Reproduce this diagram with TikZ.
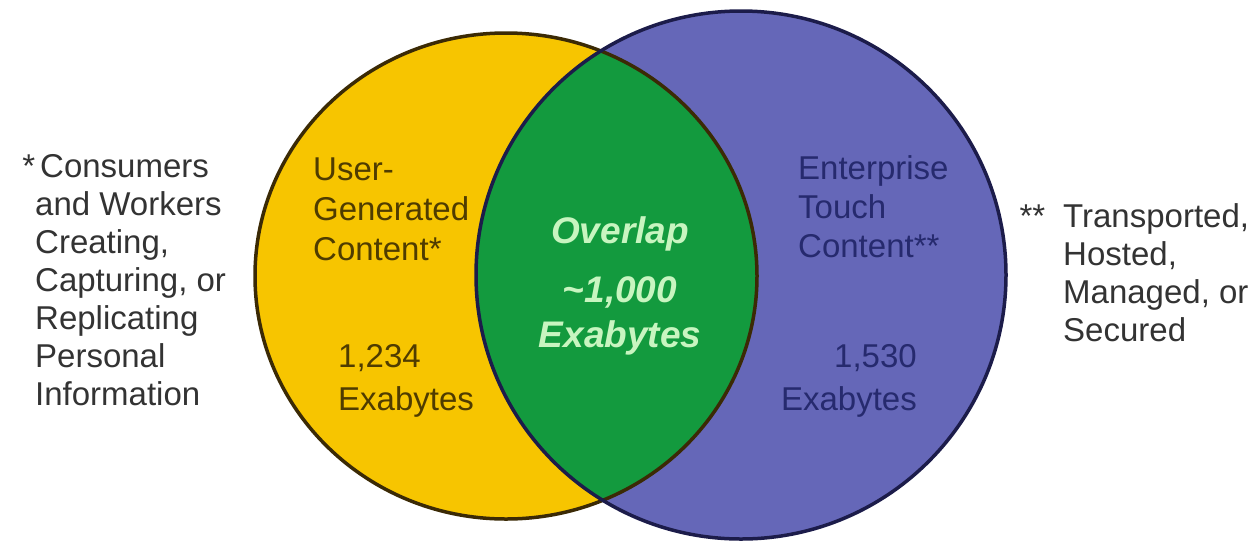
\documentclass[tikz,border=0pt]{standalone}
\usepackage{fontspec}
\setmainfont{Liberation Sans}
\usepackage{tikz}
\definecolor{ugcyellow}{HTML}{F7C500}
\definecolor{entblue}{HTML}{6567B8}
\definecolor{lensgreen}{HTML}{139A3E}
\definecolor{ugcline}{HTML}{3B2A05}
\definecolor{entline}{HTML}{1C1C4A}
\definecolor{ugcink}{HTML}{4F3C00}
\definecolor{entink}{HTML}{262A6E}
\definecolor{lensink}{HTML}{C8F5C0}
\definecolor{noteink}{HTML}{333333}
\tikzstyle{sidenote} = [anchor=base west, 
align=left, 
inner sep=0pt, 
text=noteink, 
font=\fontsize{33}{38}\selectfont]
\tikzstyle{usertext} = [sidenote, 
text=ugcink, 
font=\fontsize{33}{40}\selectfont]
\tikzstyle{enttext} = [sidenote, 
text=entink, 
font=\fontsize{33}{39}\selectfont]
\tikzstyle{overlaptext} = [anchor=base, 
align=center, 
inner sep=0pt, 
text=lensink, 
font=\fontsize{37}{45}\selectfont\bfseries\itshape]
\tikzstyle{rim} = [line width=3.5pt]

\begin{document}
\begin{tikzpicture}[x=1pt, y=-1pt]
    \useasboundingbox (0,0) rectangle (1251,542);

    % the two sets and their overlap
    \fill [ugcyellow] (506,276) ellipse [x radius=251pt, y radius=243pt];
    \fill [entblue] (741,275) ellipse [x radius=265pt, y radius=264pt];
    \begin{scope}
        \clip (506,276) ellipse [x radius=251pt, y radius=243pt];
        \fill [lensgreen] (741,275) ellipse [x radius=265pt, y radius=264pt];
    \end{scope}
    \draw [rim, ugcline] (506,276) ellipse [x radius=251pt, y radius=243pt];
    \draw [rim, entline] (741,275) ellipse [x radius=265pt, y radius=264pt];

    % base anchor sits on the last line
    \node (ugc_title) [usertext] at (313,260) {User-\\Generated\\Content*};
    \node (ugc_size) [usertext] at (338,410) {1,234\\[3pt]Exabytes};

    \node (overlap) [overlaptext] at (620,347) {Overlap\\[14pt]\textasciitilde1,000\\Exabytes};

    \node (ent_title) [enttext] at (798,257) {Enterprise\\Touch\\Content**};
    \node (ent_size) [enttext, anchor=base east, align=right] at (917,410) {1,530\\[4pt]Exabytes};

    \node (ugc_note) [sidenote] at (35,405) {\llap{*}\hspace{5pt}Consumers\\and Workers\\Creating,\\Capturing, or\\Replicating\\Personal\\Information};
    \node (ent_note) [sidenote] at (1063,341) {\llap{**\hspace{18pt}}Transported,\\Hosted,\\Managed, or\\Secured};

  \end{tikzpicture}
\end{document}
